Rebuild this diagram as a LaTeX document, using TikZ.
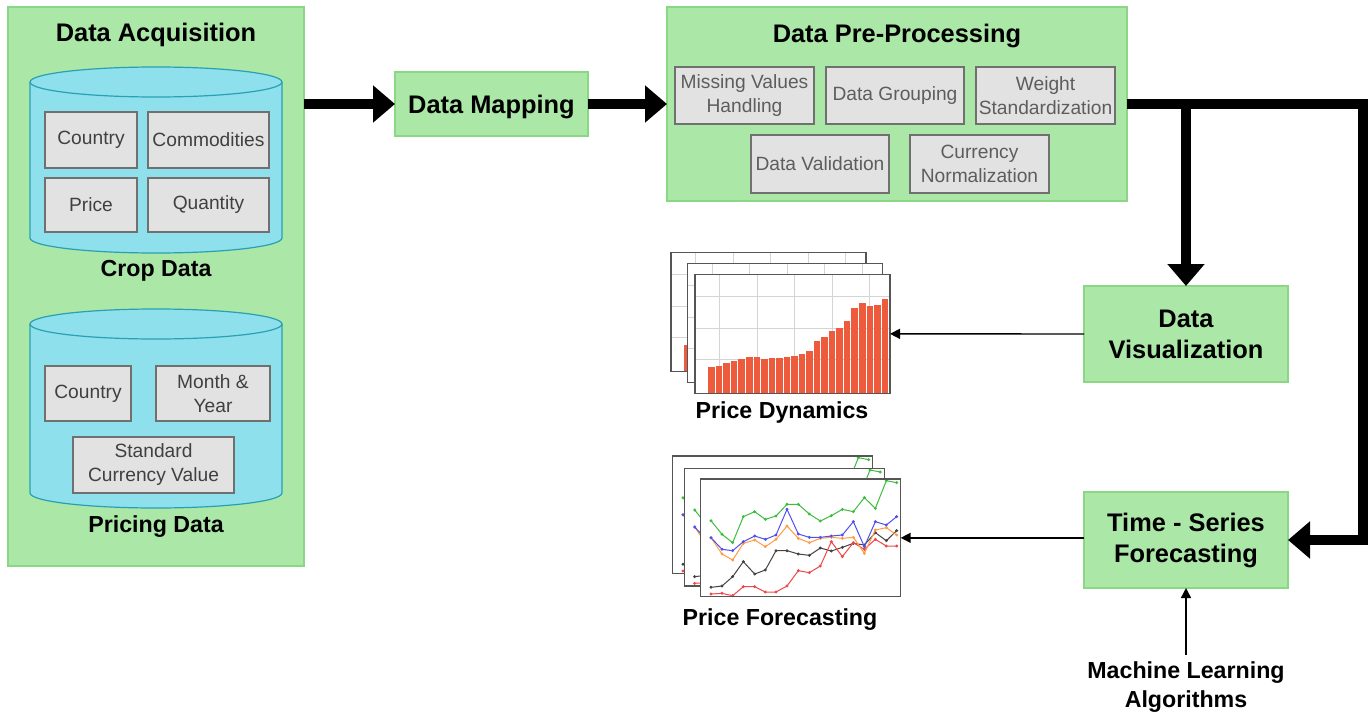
\documentclass[tikz,border=0pt]{standalone}
\usepackage{fontspec}
\setmainfont{Liberation Sans}
\usetikzlibrary{arrows.meta}
\definecolor{grnF}{HTML}{ABE7A6}
\definecolor{grnB}{HTML}{8CD786}
\definecolor{cylF}{HTML}{8EE0EC}
\definecolor{cylB}{HTML}{2AA0B2}
\definecolor{gryF}{HTML}{E2E2E2}
\definecolor{gryB}{HTML}{707070}
\definecolor{gryT}{HTML}{404040}
\definecolor{barC}{HTML}{EE5A3C}
\definecolor{gridC}{HTML}{D4D4D4}
\definecolor{frmC}{HTML}{555555}
\definecolor{fcG}{HTML}{3CBE3C}
\definecolor{fcB}{HTML}{5050F0}
\definecolor{fcO}{HTML}{FF9C44}
\definecolor{fcK}{HTML}{444444}
\definecolor{fcR}{HTML}{F04848}
\tikzset{
  grp/.style={draw=grnB, fill=grnF, line width=0.6pt, inner sep=0pt, outer sep=0pt},
  gbox/.style={draw=gryB, fill=gryF, line width=0.6pt, inner sep=0pt, outer sep=0pt,
    text=gryT, font=\fontsize{9.6}{12}\selectfont, align=center},
  ttl/.style={font=\bfseries\fontsize{12.7}{15.5}\selectfont, align=center},
  lbl/.style={font=\bfseries\fontsize{11.6}{14.5}\selectfont, align=center},
  cyl/.style={draw=cylB, fill=cylF, line width=0.6pt},
  big/.style={line width=4.75pt, line join=miter, -{Triangle[length=11pt,width=18pt]}},
  slim/.style={line width=0.7pt, -{Triangle[length=5pt,width=5pt]}},
  frame/.style={fill=white, draw=none, inner sep=0pt, outer sep=0pt},
  framel/.style={draw=frmC, line width=0.75pt},
  gridl/.style={draw=gridC, line width=0.4pt},
  fcl/.style={line width=0.5pt, mark=*, mark size=0.45pt},
}
\newcommand\pdchart[1]{%
  \node[frame, minimum width=97.5pt, minimum height=59.5pt] (#1) at (397.5,281.5) {};
  \foreach \gx in {178,291,403,516,629} \draw[gridl] (\gx,103) -- (\gx,460);
  \foreach \gy in {170,265,357} \draw[gridl] (105,\gy) -- (690,\gy);
  \foreach \h [count=\i from 0] in {380,377,370,363,358,350,350,358,354,353,352,348,343,332,303,290,272,265,243,205,188,197,196,177}
    \fill[barC] ({145+22.6*\i},\h) rectangle ({145+22.6*\i+19.5},460);
  \draw[framel] (#1.south west) rectangle (#1.north east);
}
\newcommand\fcchart[1]{%
  \node[frame, minimum width=100pt, minimum height=58.8pt] (#1) at (422,263.5) {};
  \draw[fcl, fcK, mark options={fill=fcK}] plot coordinates {(153,412)(186,408)(218,380)(250,335)(284,372)(316,360)(348,302)(381,302)(415,312)(448,316)(481,294)(514,303)(547,292)(580,280)(613,285)(646,248)(679,272)(710,242)};
  \draw[fcl, fcR, mark options={fill=fcR}] plot coordinates {(153,432)(186,430)(218,437)(250,410)(284,410)(316,426)(348,426)(381,408)(415,362)(448,368)(481,348)(514,275)(547,320)(580,278)(613,298)(646,268)(679,288)(710,288)};
  \draw[fcl, fcO, mark options={fill=fcO}] plot coordinates {(153,263)(186,312)(218,330)(250,280)(284,270)(316,290)(348,268)(381,228)(415,265)(448,278)(481,265)(514,262)(547,265)(580,262)(613,310)(646,240)(679,233)(710,255)};
  \draw[fcl, fcB, mark options={fill=fcB}] plot coordinates {(153,263)(186,298)(218,302)(250,275)(284,258)(316,268)(348,255)(381,178)(415,252)(448,262)(481,262)(514,258)(547,255)(580,215)(613,290)(646,215)(679,225)(710,200)};
  \draw[fcl, fcG, mark options={fill=fcG}] plot coordinates {(153,212)(186,253)(218,278)(250,200)(284,185)(316,208)(348,198)(381,163)(415,163)(448,192)(481,213)(514,197)(547,178)(580,185)(613,143)(646,175)(679,92)(710,98)};
  \draw[framel] (#1.south west) rectangle (#1.north east);
}
\begin{document}
\begin{tikzpicture}[x=0.5pt,y=-0.5pt]
\useasboundingbox (0,0) rectangle (1372,712);

% ---------- Data Acquisition ----------
\node[grp, minimum width=148pt, minimum height=279.5pt] (da) at (156,286.5) {};
\node[ttl] (daT) at (156,35) {Data Acquisition};

% crop data cylinder
\filldraw[cyl] (30,82) -- (30,238) arc[start angle=180,end angle=360,x radius=63pt,y radius=7.5pt]
  -- (282,82) arc[start angle=0,end angle=180,x radius=63pt,y radius=7.5pt] -- cycle;
\draw[cylB, line width=0.6pt] (30,82) arc[start angle=180,end angle=360,x radius=63pt,y radius=7.5pt];
\node[gbox, minimum width=46pt, minimum height=28pt] (c1a) at (91,140) {Country};
\node[gbox, minimum width=60.5pt, minimum height=28pt] (c1b) at (208.5,140) {Commodities};
\node[gbox, minimum width=46pt, minimum height=27pt] (c1c) at (91,205) {Price};
\node[gbox, minimum width=60.5pt, minimum height=27pt] (c1d) at (208.5,205) {Quantity};
\node[lbl] (cropL) at (156,271) {Crop Data};

% pricing data cylinder
\filldraw[cyl] (30,324) -- (30,493) arc[start angle=180,end angle=360,x radius=63pt,y radius=7.5pt]
  -- (282,324) arc[start angle=0,end angle=180,x radius=63pt,y radius=7.5pt] -- cycle;
\draw[cylB, line width=0.6pt] (30,324) arc[start angle=180,end angle=360,x radius=63pt,y radius=7.5pt];
\node[gbox, minimum width=43pt, minimum height=27.5pt] (c2a) at (88,393.5) {Country};
\node[gbox, minimum width=57pt, minimum height=27.5pt] (c2b) at (213,393.5) {Month \&\\Year};
\node[gbox, minimum width=80.5pt, minimum height=28pt] (c2c) at (153.5,465) {Standard\\Currency Value};
\node[lbl] (priceL) at (156,527) {Pricing Data};

% ---------- Data Mapping ----------
\node[grp, ttl, text depth=0pt, minimum width=96.5pt, minimum height=32pt] (dm) at (491.5,104) {Data Mapping};

% ---------- Data Pre-Processing ----------
\node[grp, minimum width=230pt, minimum height=97pt] (dpp) at (897,104) {};
\node[ttl] (dppT) at (897,36) {Data Pre-Processing};
\node[gbox, minimum width=69.5pt, minimum height=28.5pt, text=gryT!85] (p1) at (744.5,95.5) {Missing Values\\Handling};
\node[gbox, minimum width=69pt, minimum height=28.5pt, text=gryT!85] (p2) at (895,95.5) {Data Grouping};
\node[gbox, minimum width=69.5pt, minimum height=28.5pt, text=gryT!85] (p3) at (1045.5,95.5) {Weight\\Standardization};
\node[gbox, minimum width=69pt, minimum height=29pt, text=gryT!85] (p4) at (820,164) {Data Validation};
\node[gbox, minimum width=69.5pt, minimum height=29pt, text=gryT!85] (p5) at (979.5,164) {Currency\\Normalization};

% ---------- right boxes ----------
\node[grp, ttl, minimum width=102pt, minimum height=48pt] (dv) at (1186,334) {Data\\Visualization};
\node[grp, ttl, minimum width=102pt, minimum height=48pt] (tsf) at (1186,540) {Time - Series\\Forecasting};
\node[lbl] (ml) at (1186,687) {Machine Learning\\Algorithms};

% ---------- charts ----------
\begin{scope}[shift={(660,240)}, x=0.1666667pt, y=-0.1666667pt]
  \begin{scope}[shift={(-72,-66)}]\pdchart{pdA}\end{scope}
  \begin{scope}[shift={(-22,-33)}]\pdchart{pdB}\end{scope}
  \pdchart{pd}
\end{scope}
\node[lbl] (pdL) at (782,412) {Price Dynamics};

\begin{scope}[shift={(660,450)}, x=0.1666667pt, y=-0.1666667pt]
  \begin{scope}[shift={(-84,-69)}]\fcchart{pfA}\end{scope}
  \begin{scope}[shift={(-49,-32)}]\fcchart{pfB}\end{scope}
  \fcchart{pf}
\end{scope}
\node[lbl] (pfL) at (780,620) {Price Forecasting};

% ---------- connectors ----------
\coordinate (k1) at (1363,104);
\coordinate (k2) at (1363,540);
\draw[big] (da.east |- dm.west) -- (dm.west);
\draw[big] (dm.east) -- (dpp.west);
\draw[big] (dpp.east) -- (k1) -- (k2) -- (tsf.east);
\draw[big] (dv.north |- dpp.east) -- (dv.north);
\draw[slim] (dv.west) -- (pd.east);
\draw[slim] (tsf.west |- pf.east) -- (pf.east);
\draw[slim] (ml.north) -- (tsf.south);
\end{tikzpicture}
\end{document}
